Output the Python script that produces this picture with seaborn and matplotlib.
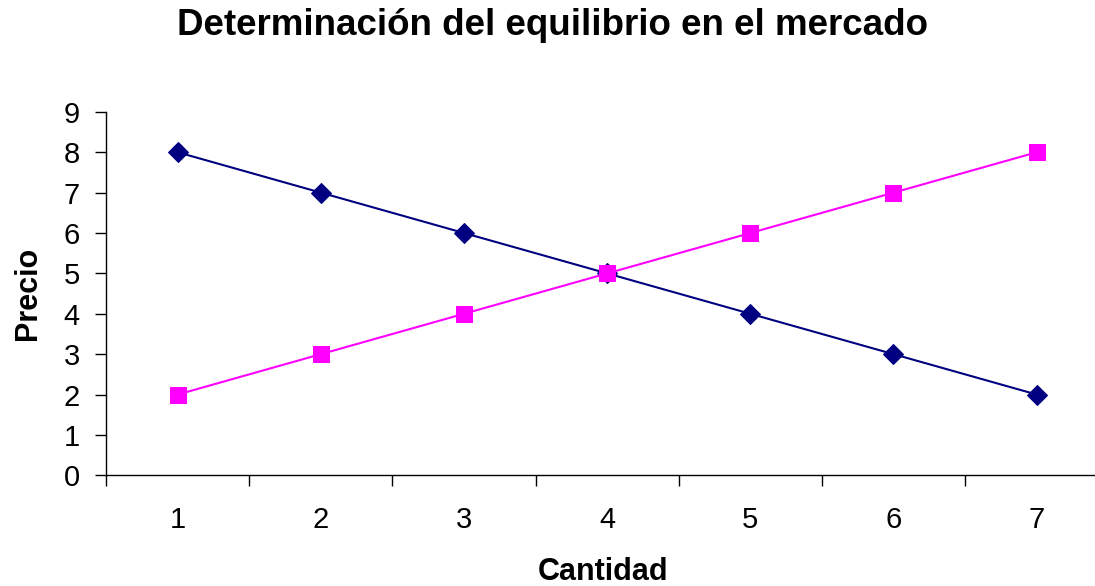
import numpy as np
import pandas as pd
import seaborn as sns
from matplotlib import pyplot as plt
from matplotlib.ticker import FixedLocator

cantidad = [1, 2, 3, 4, 5, 6, 7]
demanda = [8, 7, 6, 5, 4, 3, 2]
oferta = [2, 3, 4, 5, 6, 7, 8]

sns.set_style('white')
plt.rcParams['font.family'] = ['Liberation Sans', 'DejaVu Sans']
plt.rcParams['text.color'] = 'black'
plt.rcParams['axes.labelcolor'] = 'black'
plt.rcParams['xtick.color'] = 'black'
plt.rcParams['ytick.color'] = 'black'

df_ = pd.DataFrame({'Cantidad': cantidad, 'Demanda': demanda, 'Oferta': oferta})

fig = plt.figure(figsize=(10.95, 5.86), dpi=100)
ax = fig.add_axes([0.097, 0.189, 0.915, 0.62])

sns.lineplot(data=df_, x='Cantidad', y='Demanda', ax=ax, color='#000080', lw=1.5,
             marker='D', markersize=10, markeredgecolor='#000080')
sns.lineplot(data=df_, x='Cantidad', y='Oferta', ax=ax, color='#FF00FF', lw=1.5,
             marker='s', markersize=11, markeredgecolor='#FF00FF')

ax.set_xlim(0.5, 7.5)
ax.set_ylim(0, 9)
ax.set_yticks(range(0, 10))
ax.set_xticks(cantidad)
ax.xaxis.set_minor_locator(FixedLocator(np.arange(0.5, 8, 1)))
ax.tick_params(axis='x', which='major', bottom=True, length=0, labelsize=21, pad=22)
ax.tick_params(axis='x', which='minor', bottom=True, length=8, width=1, direction='out')
ax.tick_params(axis='y', which='major', left=True, length=8, width=1, direction='out',
               labelsize=21, pad=11)

for s in ['top', 'right']:
    ax.spines[s].set_visible(False)
for s in ['left', 'bottom']:
    ax.spines[s].set_color('black')
    ax.spines[s].set_linewidth(1)

ax.set_xlabel('Cantidad', fontsize=22, fontweight='bold')
ax.set_ylabel('Precio', fontsize=22, fontweight='bold')
ax.xaxis.set_label_coords(0.496, -0.225)
ax.yaxis.set_label_coords(-0.063, 0.5)
fig.text(0.5046, 0.940, 'Determinación del equilibrio en el mercado', fontsize=26.5,
         fontweight='bold', ha='center', va='baseline')

fig.savefig('out.png', dpi=100)
